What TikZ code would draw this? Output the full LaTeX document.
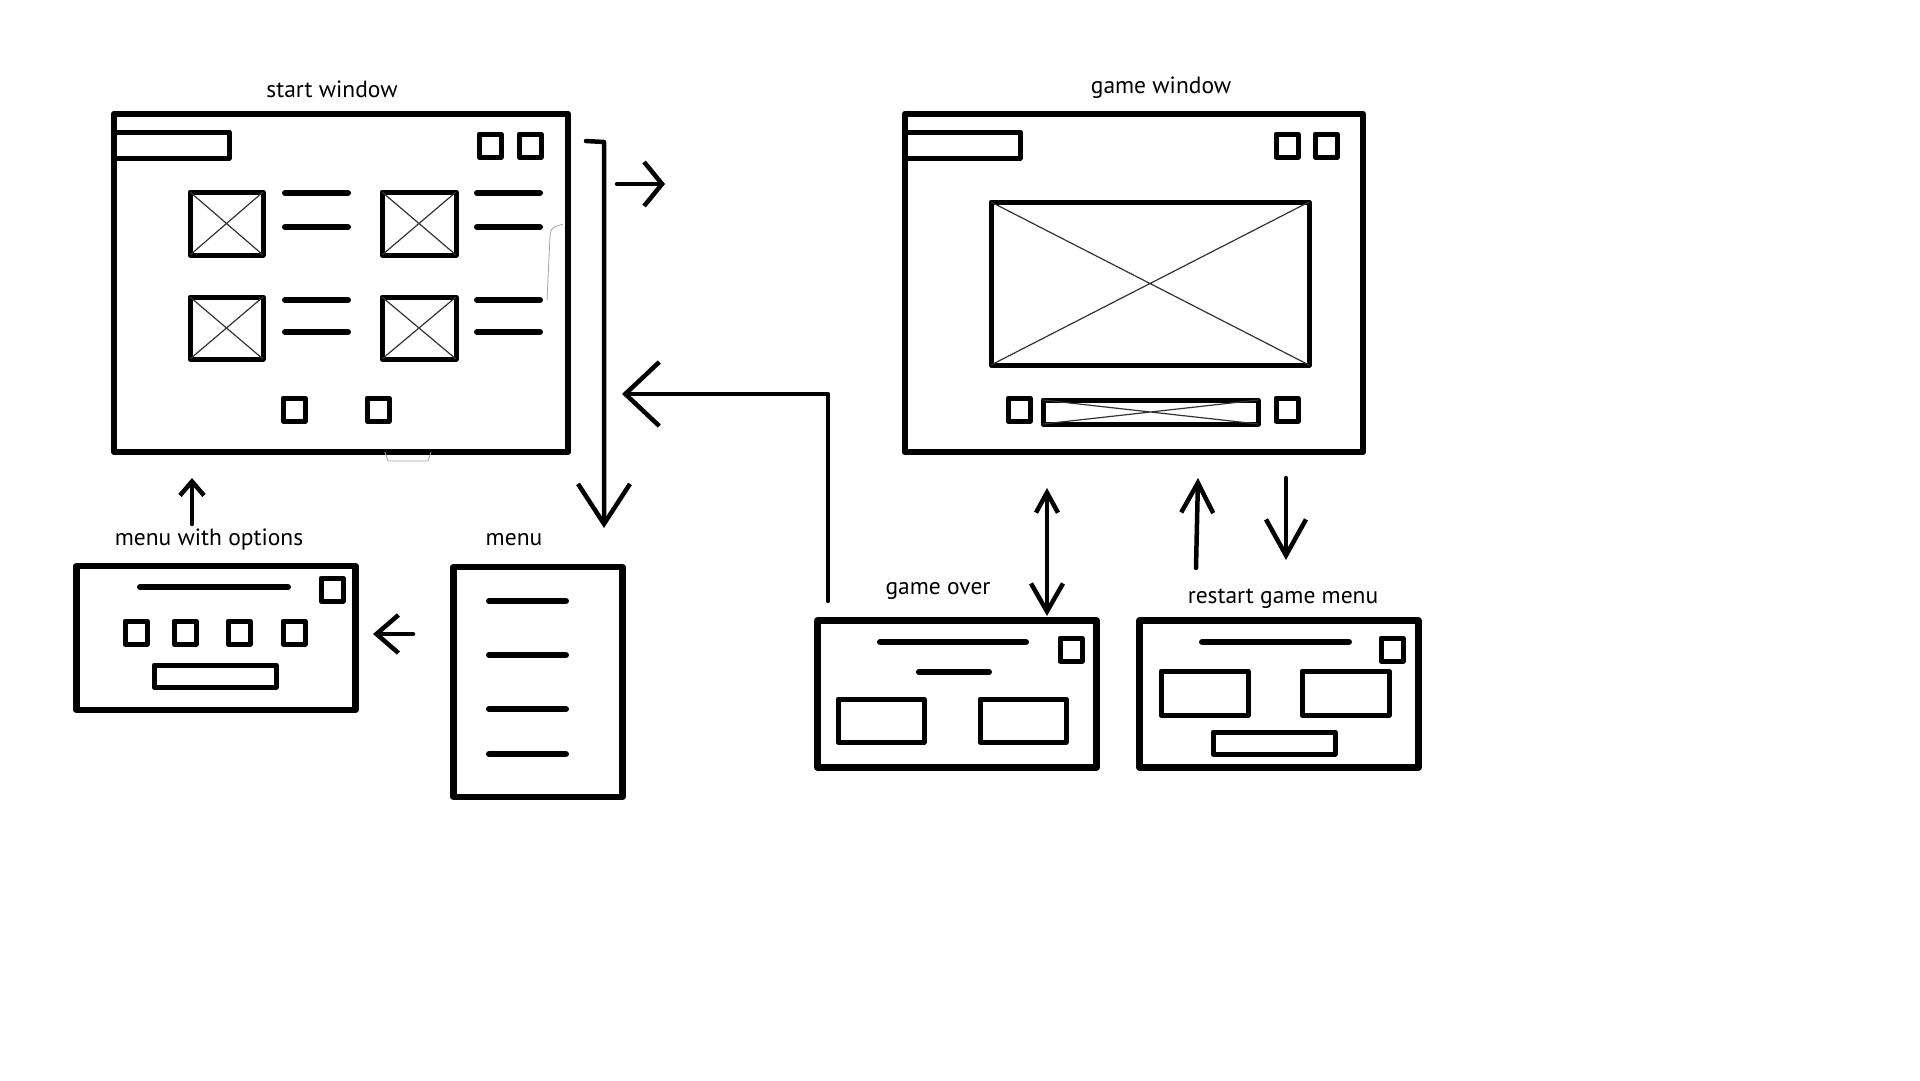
\documentclass[tikz,border=0pt]{standalone}
\usepackage{fontspec}
\setmainfont{PT Sans}
\usetikzlibrary{arrows.meta}
% image placeholder: box with thin diagonals
\newcommand\picbox[4]{%
  \draw[part] (#1,#2) rectangle (#3,#4);
  \draw[cross] (#1,#2) -- (#3,#4) (#1,#4) -- (#3,#2);}
\newcommand\sqbtn[2]{\draw[part] (#1,#2) rectangle ++(22,23);}
\begin{document}
\begin{tikzpicture}[x=1pt,y=-1pt,
  frame/.style={draw=black, line width=6.5pt, line join=round, minimum width=#1, inner sep=0pt, rectangle},
  part/.style={draw=black, line width=5pt, line join=round, line cap=round},
  rule/.style={line width=6pt, line cap=round},
  cross/.style={line width=1.2pt, black!80},
  faint/.style={line width=0.8pt, black!35},
  lbl/.style={font=\fontsize{23.5}{28}\selectfont, inner sep=0pt},
  flow/.style={line width=4.5pt, line cap=round, line join=round},
]
\fill[white] (0,0) rectangle (1920,1080);
\useasboundingbox (0,0) rectangle (1920,1080);

% ---------- start window ----------
\node[lbl] (tstart) at (332,89) {start window};
\node[frame=454pt, minimum height=338pt] (start) at (341,283) {};
\draw[part] (114,132) rectangle (229,158);
\sqbtn{479}{134} \sqbtn{519}{134}
\picbox{190}{192}{263}{255}
\picbox{382}{192}{456}{255}
\picbox{190}{297}{263}{359}
\picbox{382}{297}{456}{359}
\foreach \y in {193,227,300,332} {
  \draw[rule] (285,\y) -- (348,\y);
  \draw[rule] (477,\y) -- (540,\y);
}
\sqbtn{283}{398} \sqbtn{367}{398}
\draw[faint] (385,452) -- (388,461) -- (428,461) -- (431,452);
\draw[faint] (563,224) .. controls (551,228) .. (550,236) -- (547,300);

% ---------- game window ----------
\node[lbl] (tgame) at (1161,88) {game window};
\node[frame=458pt, minimum height=338pt] (game) at (1134,283) {};
\draw[part] (905,132) rectangle (1020,158);
\sqbtn{1276}{134} \sqbtn{1315}{134}
\picbox{991}{202}{1309}{365}
\sqbtn{1008}{398}
\picbox{1043}{400}{1258}{424}
\sqbtn{1276}{398}

% ---------- menu with options ----------
\node[lbl] (topts) at (209,540) {menu with options};
\node[frame=279pt, minimum height=144pt] (opts) at (216,638) {};
\draw[rule] (140,587) -- (288,587);
\sqbtn{321}{578}
\foreach \x in {125,174,228,283} { \sqbtn{\x}{621} }
\draw[part] (154,665) rectangle (276,687);

% ---------- menu ----------
\node[lbl] (tmenu) at (514,540) {menu};
\node[frame=169pt, minimum height=230pt] (menu) at (538,682) {};
\foreach \y in {601,655,709,754} { \draw[rule] (489,\y) -- (566,\y); }

% ---------- game over ----------
\node[lbl] (tover) at (938,591) {game over};
\node[frame=279pt, minimum height=147pt] (over) at (957,694) {};
\draw[rule] (880,642) -- (1026,642);
\draw[rule] (919,672) -- (989,672);
\sqbtn{1060}{638}
\draw[part] (838,699) rectangle (924,742);
\draw[part] (980,699) rectangle (1066,742);

% ---------- restart game menu ----------
\node[lbl] (trestart) at (1283,599) {restart game menu};
\node[frame=279pt, minimum height=147pt] (restart) at (1279,694) {};
\draw[rule] (1202,642) -- (1349,642);
\sqbtn{1381}{638}
\draw[part] (1161,671) rectangle (1248,715);
\draw[part] (1302,671) rectangle (1389,715);
\draw[part] (1213,732) rectangle (1335,754);

% ---------- transitions ----------
\coordinate (a1) at (586,141);
\coordinate (a2) at (604,142);
\coordinate (a3) at (604,528);
\draw[flow, -{Straight Barb[length=40pt,width=52pt]}] (a1) -- (a2) -- (a3);

\coordinate (b1) at (617,184);
\coordinate (b2) at (665,184);
\draw[flow, -{Straight Barb[length=18pt,width=44pt]}] (b1) -- (b2);

\coordinate (c1) at (828,601);
\coordinate (c2) at (828,394);
\coordinate (c3) at (622,394);
\draw[flow, -{Straight Barb[length=34pt,width=64pt]}] (c1) -- (c2) -- (c3);

\coordinate (d1) at (413,634);
\coordinate (d2) at (373,634);
\draw[flow, -{Straight Barb[length=22pt,width=38pt]}] (d1) -- (d2);

\coordinate (e1) at (192,524);
\coordinate (e2) at (192,478);
\draw[flow, -{Straight Barb[length=14pt,width=24pt]}] (e1) -- (e2);

\coordinate (f1) at (1047,488);
\coordinate (f2) at (1047,616);
\draw[flow, {Straight Barb[length=20pt,width=22pt]}-{Straight Barb[length=28pt,width=32pt]}] (f1) -- (f2);

\coordinate (g1) at (1196,568);
\coordinate (g2) at (1198,478);
\draw[flow, -{Straight Barb[length=30pt,width=32pt]}] (g1) -- (g2);

\coordinate (h1) at (1286,478);
\coordinate (h2) at (1286,560);
\draw[flow, -{Straight Barb[length=36pt,width=40pt]}] (h1) -- (h2);
\end{tikzpicture}
\end{document}
